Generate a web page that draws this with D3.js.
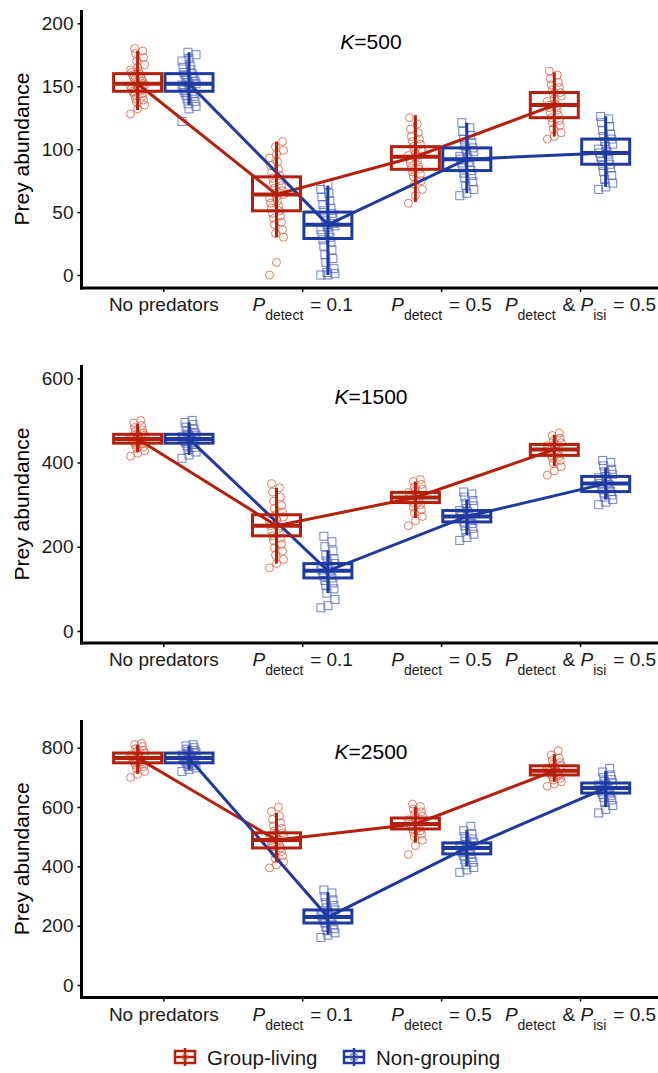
<!DOCTYPE html>
<html><head><meta charset="utf-8">
<script src="https://cdn.jsdelivr.net/npm/d3@7"></script>
<style>body{margin:0;background:#fff}svg{display:block;font-family:"Liberation Sans",Arial,sans-serif}</style>
</head><body>
<script>
// ---------------- data ----------------
const categories = ["No predators", "P[detect] = 0.1", "P[detect] = 0.5", "P[detect] & P[isi] = 0.5"];
const seriesNames = ["Group-living", "Non-grouping"];
const kLabels = ["500", "1500", "2500"];
const yTicks500 = [0, 50, 100, 150, 200];
const yTicks1500 = [0, 200, 400, 600];
const yTicks2500 = [0, 200, 400, 600, 800];

// K = 500 : individual replicate values (estimated)
const groupPts500 = [
  [128,132,135,137,139,140,142,143,144,145,146,146,147,148,149,150,150,151,152,152,153,154,155,156,157,158,159,160,161,162,163,165,167,170,173,176,178,180],
  [0,10,30,33,36,40,42,45,47,49,51,53,55,57,59,61,62,64,65,67,69,71,73,75,77,79,81,84,87,90,93,96,99,102,106],
  [57,63,68,72,75,78,80,82,84,85,87,89,91,92,94,95,96,98,99,100,102,104,106,108,110,113,116,120,125],
  [108,110,113,116,119,121,123,125,127,129,131,133,134,135,136,138,140,142,144,145,147,149,151,153,156,159,162]
];
const nonPts500 = [
  [122,132,134,136,138,140,142,143,144,145,146,147,148,149,150,151,151,152,153,154,155,156,157,158,159,160,161,163,165,167,170,172,175,177],
  [0,0,1,2,5,10,13,16,20,23,26,28,30,32,34,36,38,39,40,41,43,45,47,49,51,53,56,59,62,65,68,72],
  [63,65,68,71,74,77,79,81,83,85,87,89,90,92,93,94,96,98,100,101,103,105,108,111,114,117,121],
  [68,70,73,76,79,82,85,87,88,90,92,94,96,97,98,100,102,104,106,108,110,112,115,118,121,124,126]
];
// boxes: [lower, middle, upper]; whiskers: [low, high]
const groupBox500 = [[146,152,160],[51,64,78],[84,94,102],[125,135,145]];
const nonBox500   = [[146,152,160],[29,40,50],[83,92,101],[88,97,108]];
const groupWhisk500 = [[131,178],[30,106],[58,127],[110,161]];
const nonWhisk500   = [[135,177],[0,71],[65,121],[70,126]];

// K = 1500
const groupPts1500 = [
  [415,422,428,433,437,441,444,446,448,450,452,454,456,457,459,461,463,465,467,470,474,478,483,488,494,500],
  [150,160,170,180,190,198,206,214,220,226,232,238,244,250,255,260,266,271,276,282,290,298,308,318,330,340,350],
  [250,262,272,280,288,294,300,305,308,311,314,317,320,323,326,329,333,337,342,348,355,360],
  [370,380,390,398,405,410,414,417,420,423,426,429,431,434,437,440,443,447,452,458,464,470]
];
const nonPts1500 = [
  [410,418,425,431,436,440,443,446,448,450,452,454,455,457,459,461,463,465,467,470,474,479,484,490,495,500],
  [55,60,75,90,100,108,114,120,126,130,134,138,142,145,148,152,156,160,166,172,180,190,200,212,225],
  [215,222,230,237,244,250,255,259,263,267,270,273,276,280,283,286,291,297,303,310,318,325,330],
  [300,306,312,318,323,328,331,335,339,343,347,350,353,357,361,364,367,372,378,384,392,400,405]
];
const groupBox1500 = [[446,456,467],[226,250,276],[305,317,329],[417,431,443]];
const nonBox1500   = [[446,456,467],[126,143,160],[259,272,286],[331,350,367]];
const groupWhisk1500 = [[425,492],[160,340],[268,355],[392,466]];
const nonWhisk1500   = [[418,495],[90,192],[228,312],[312,388]];

// K = 2500
const groupPts2500 = [
  [700,710,720,728,735,741,746,749,752,756,760,763,766,769,772,776,779,782,786,791,797,804,810,815],
  [395,405,415,425,435,443,450,456,462,467,472,477,482,487,490,494,498,503,508,513,520,528,537,547,558,570,585,600],
  [440,470,488,500,508,514,520,526,530,534,538,542,545,549,553,557,563,569,576,584,593,602,610],
  [670,678,685,691,697,702,706,708,711,714,717,720,722,725,728,731,735,739,744,750,757,765,775,790]
];
const nonPts2500 = [
  [720,726,732,737,741,745,749,752,755,758,761,764,766,769,772,775,778,782,786,790,795,800,806,810],
  [160,168,176,183,190,196,202,209,213,217,221,225,229,233,237,241,246,253,260,268,277,287,298,310,320],
  [380,388,396,405,414,422,430,436,442,446,450,454,458,462,466,470,474,479,485,492,500,510,520,535],
  [580,592,605,615,624,632,638,643,647,651,655,659,663,666,670,674,678,681,686,692,699,708,718,730]
];
const groupBox2500 = [[749,765,782],[462,489,513],[526,543,563],[708,722,739]];
const nonBox2500   = [[749,765,782],[209,229,253],[442,462,479],[647,664,681]];
const groupWhisk2500 = [[712,810],[415,580],[480,600],[685,778]];
const nonWhisk2500   = [[725,806],[170,312],[400,522],[600,722]];

// ---------------- drawing ----------------
const W = 658, H = 1073;
const FONT = '"Liberation Sans", Arial, sans-serif';
const red = "#B5200D", blue = "#1F3A9E";
const redPt = "#DC5A3C", bluePt = "#4E63C4";

const svg = d3.select("body").append("svg").attr("width", W).attr("height", H);

const x = d3.scalePoint().domain(categories).range([163.3, 580]);
const dodge = 25.7, boxW = 48;
const axisX = 81.5;

const panels = [
  {k: kLabels[0], ticks: yTicks500, dom: [0, 200], rng: [275, 23.3], top: 10, base: 288,
   data: [[groupPts500, groupBox500, groupWhisk500], [nonPts500, nonBox500, nonWhisk500]]},
  {k: kLabels[1], ticks: yTicks1500, dom: [0, 600], rng: [631, 378.3], top: 365, base: 643,
   data: [[groupPts1500, groupBox1500, groupWhisk1500], [nonPts1500, nonBox1500, nonWhisk1500]]},
  {k: kLabels[2], ticks: yTicks2500, dom: [0, 800], rng: [985, 747.7], top: 720, base: 997.5,
   data: [[groupPts2500, groupBox2500, groupWhisk2500], [nonPts2500, nonBox2500, nonWhisk2500]]}
];

const styles = [
  {color: red, pt: redPt, off: -dodge, shape: "circle"},
  {color: blue, pt: bluePt, off: dodge, shape: "square"}
];

function jitter(j) { return ((j * 37) % 15) - 7; }

function writeLabel(textSel, label) {
  const re = /P\[(\w+)\]/g;
  let last = 0, m;
  while ((m = re.exec(label)) !== null) {
    if (m.index > last) textSel.append("tspan").text(label.slice(last, m.index));
    textSel.append("tspan").attr("font-style", "italic").text("P");
    textSel.append("tspan").attr("font-size", 14).attr("dy", 9).text(m[1]);
    textSel.append("tspan").attr("dy", -9).text("\u200A");
    last = re.lastIndex;
  }
  if (last < label.length) textSel.append("tspan").text(label.slice(last));
}

panels.forEach(p => {
  const g = svg.append("g");
  const y = d3.scaleLinear().domain(p.dom).range(p.rng);

  // points
  p.data.forEach((d, si) => {
    const st = styles[si];
    d[0].forEach((vals, ci) => {
      const cx = x(categories[ci]) + st.off;
      vals.forEach((v, j) => {
        const px = cx + jitter(j), py = y(v);
        if (st.shape === "circle") {
          g.append("circle").attr("cx", px).attr("cy", py).attr("r", 4)
            .attr("fill", "none").attr("stroke", st.pt).attr("stroke-width", 1).attr("stroke-opacity", 0.8);
        } else {
          g.append("rect").attr("x", px - 4).attr("y", py - 4).attr("width", 8).attr("height", 8)
            .attr("fill", "none").attr("stroke", st.pt).attr("stroke-width", 1).attr("stroke-opacity", 0.8);
        }
      });
    });
  });

  // connecting lines
  p.data.forEach((d, si) => {
    const st = styles[si];
    const line = d3.line().x((b, ci) => x(categories[ci]) + st.off).y(b => y(b[1]));
    g.append("path").datum(d[1]).attr("d", line).attr("fill", "none")
      .attr("stroke", st.color).attr("stroke-width", 3);
  });

  // whiskers + boxes
  p.data.forEach((d, si) => {
    const st = styles[si];
    d[1].forEach((b, ci) => {
      const cx = x(categories[ci]) + st.off;
      const wk = d[2][ci];
      g.append("line").attr("x1", cx).attr("x2", cx).attr("y1", y(wk[0])).attr("y2", y(wk[1]))
        .attr("stroke", st.color).attr("stroke-width", 3);
      g.append("rect").attr("x", cx - boxW / 2).attr("y", y(b[2])).attr("width", boxW)
        .attr("height", y(b[0]) - y(b[2])).attr("fill", "none")
        .attr("stroke", st.color).attr("stroke-width", 3);
      g.append("line").attr("x1", cx - boxW / 2).attr("x2", cx + boxW / 2)
        .attr("y1", y(b[1])).attr("y2", y(b[1])).attr("stroke", st.color).attr("stroke-width", 4);
    });
  });

  // y axis
  const ya = g.append("g").attr("transform", `translate(${axisX},0)`)
    .call(d3.axisLeft(y).tickValues(p.ticks).tickSize(4).tickPadding(4).tickFormat(d3.format("d")));
  ya.select(".domain").remove();
  ya.selectAll(".tick line").attr("stroke", "#000").attr("stroke-width", 1.5);
  ya.selectAll(".tick text").attr("font-size", 19).attr("fill", "#1a1a1a").attr("font-family", FONT);

  // x axis
  const xa = g.append("g").attr("transform", `translate(0,${p.base})`)
    .call(d3.axisBottom(x).tickSize(4).tickFormat(""));
  xa.select(".domain").remove();
  xa.selectAll(".tick line").attr("stroke", "#000").attr("stroke-width", 1.5);
  xa.selectAll(".tick").each(function(c) {
    const t = d3.select(this).append("text").attr("y", 23).attr("text-anchor", "middle")
      .attr("font-size", 19).attr("fill", "#1a1a1a").attr("font-family", FONT);
    writeLabel(t, c);
  });

  // axis lines
  g.append("line").attr("x1", axisX).attr("x2", axisX).attr("y1", p.top).attr("y2", p.base + 1.5)
    .attr("stroke", "#000").attr("stroke-width", 3);
  g.append("line").attr("x1", axisX - 1.5).attr("x2", W).attr("y1", p.base).attr("y2", p.base)
    .attr("stroke", "#000").attr("stroke-width", 3);

  // y title
  g.append("text").attr("transform", `translate(29,${(p.top + p.base) / 2}) rotate(-90)`)
    .attr("text-anchor", "middle").attr("font-size", 21).attr("fill", "#000").text("Prey abundance");

  // panel title
  const tt = g.append("text").attr("x", 371).attr("y", p.top + 39).attr("text-anchor", "middle")
    .attr("font-size", 21).attr("fill", "#000");
  tt.append("tspan").attr("font-style", "italic").text("K");
  tt.append("tspan").text("=" + p.k);
});

// legend
const lg = svg.append("g").attr("transform", "translate(0,1057)");
const legendPos = [{kx: 185, tx: 207}, {kx: 354, tx: 376}];
seriesNames.forEach((name, i) => {
  const st = styles[i], lp = legendPos[i];
  const k = lg.append("g").attr("transform", `translate(${lp.kx},0)`);
  k.append("line").attr("x1", 0).attr("x2", 0).attr("y1", -9).attr("y2", 9).attr("stroke", st.color).attr("stroke-width", 2.5);
  k.append("rect").attr("x", -10).attr("y", -6).attr("width", 20).attr("height", 12)
    .attr("fill", "none").attr("stroke", st.color).attr("stroke-width", 2.5);
  k.append("line").attr("x1", -10).attr("x2", 10).attr("y1", 0).attr("y2", 0).attr("stroke", st.color).attr("stroke-width", 2.5);
  if (st.shape === "circle") {
    k.append("circle").attr("r", 3).attr("fill", "none").attr("stroke", st.pt).attr("stroke-width", 1);
  } else {
    k.append("rect").attr("x", -3).attr("y", -3).attr("width", 6).attr("height", 6).attr("fill", "none").attr("stroke", st.pt).attr("stroke-width", 1);
  }
  lg.append("text").attr("x", lp.tx).attr("y", 7.5).attr("font-size", 20.5).attr("fill", "#1a1a1a").text(name);
});
</script>
</body></html>
